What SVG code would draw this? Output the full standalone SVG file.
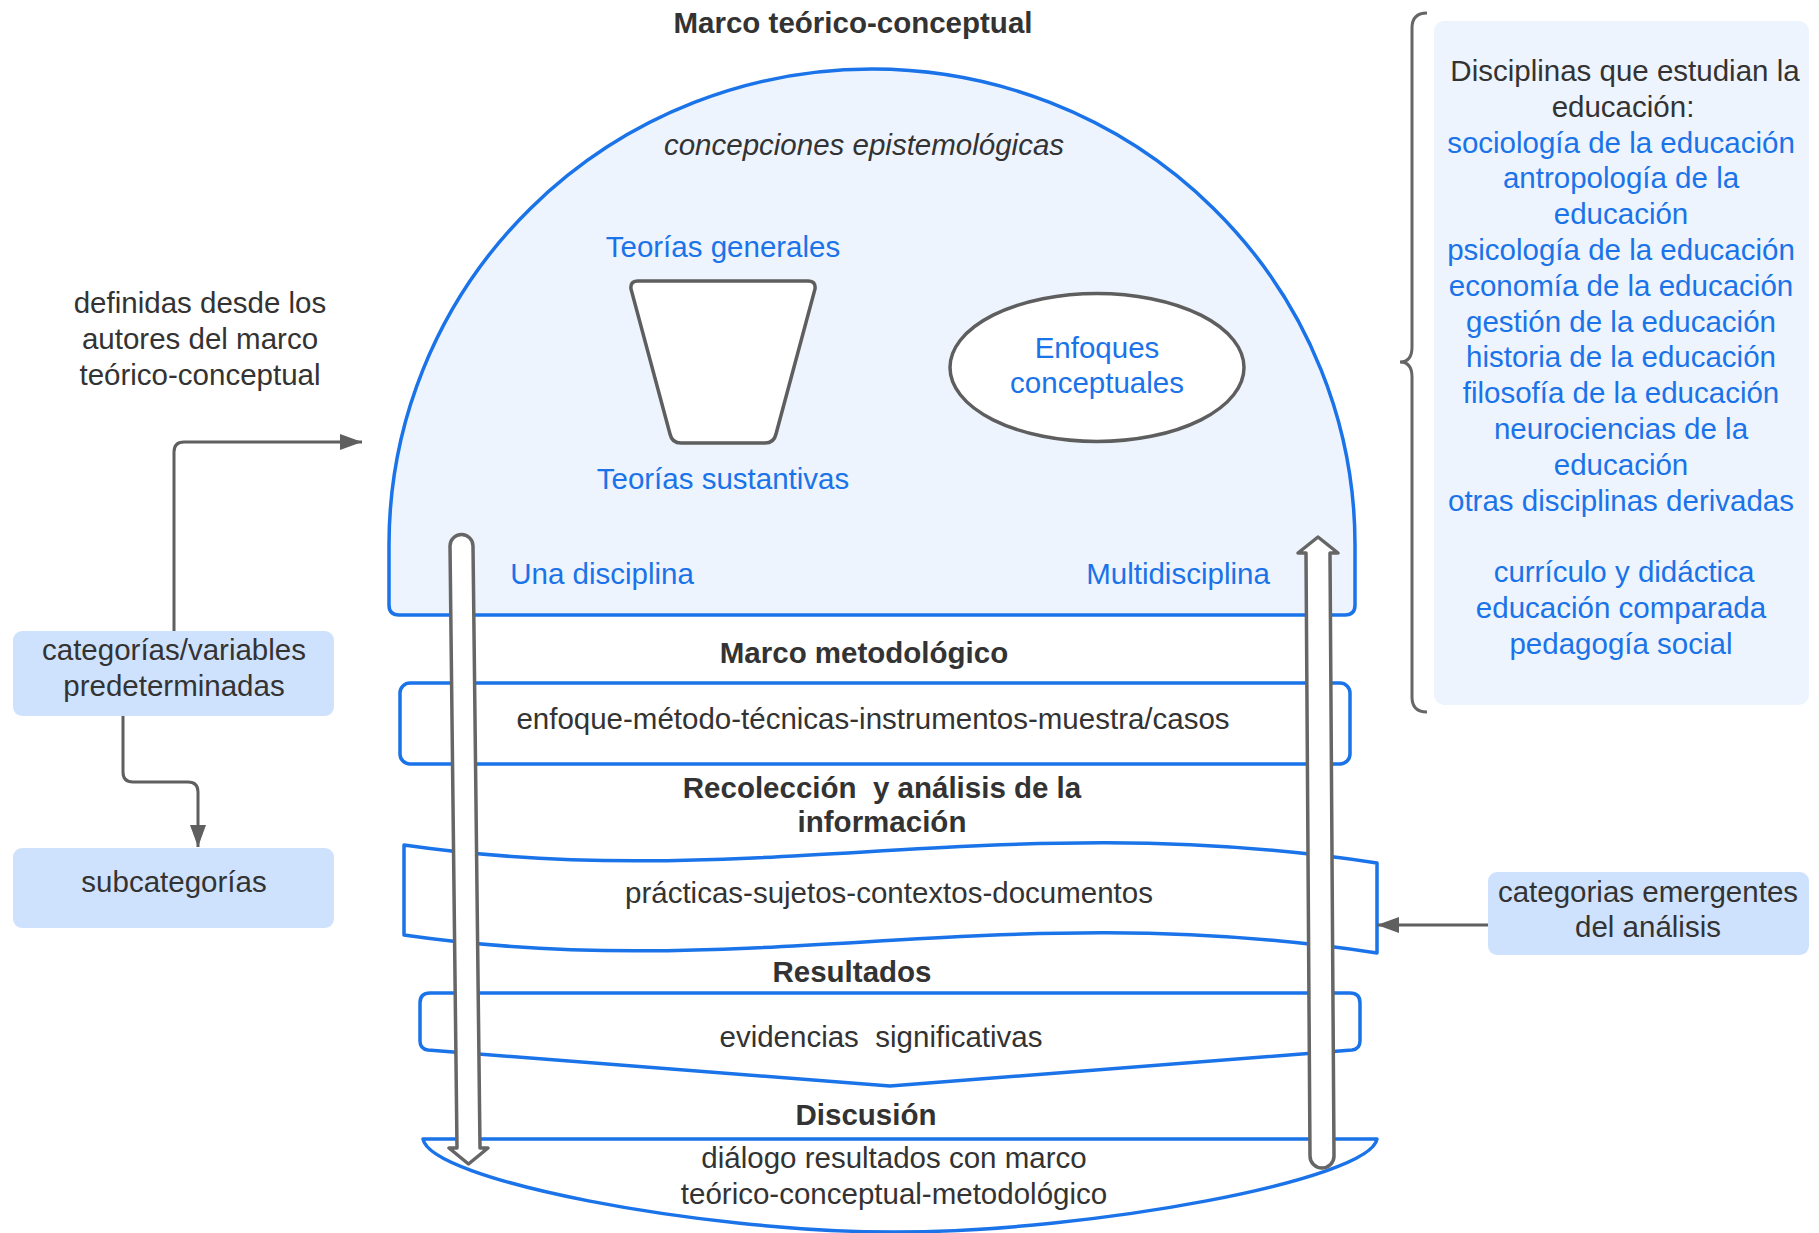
<svg xmlns="http://www.w3.org/2000/svg" width="1819" height="1233" viewBox="0 0 1819 1233">
<style>
text{font-family:"Liberation Sans",Arial,sans-serif;font-size:29.5px;fill:#333333;text-anchor:middle;white-space:pre}
.b{font-weight:bold}
.i{font-style:italic}
.blue{fill:#1a73e8}
.shape{fill:#ffffff;stroke:#1a73e8;stroke-width:3.5;stroke-linejoin:round}
.lbox{fill:#cfe2fd;stroke:none}
.garrow{fill:#ffffff;stroke:#666666;stroke-width:3.5;stroke-linejoin:round}
.conn{fill:none;stroke:#5f5f5f;stroke-width:3}
</style>
<defs>
<marker id="ah" markerUnits="userSpaceOnUse" markerWidth="24" markerHeight="18" refX="22" refY="8" orient="auto">
<path d="M0,0 L22,8 L0,16 Z" fill="#5f5f5f"/>
</marker>
</defs>
<rect width="1819" height="1233" fill="#ffffff"/>

<text class="b" x="853" y="33">Marco teórico-conceptual</text>

<g id="dome">
<path d="M389,605 L389,545 A483,476 0 0 1 1355,545 L1355,605 Q1355,615 1345,615 L399,615 Q389,615 389,605 Z" fill="#edf4fe" stroke="#1a73e8" stroke-width="3.5"/>
<text class="i" x="864" y="155">concepciones epistemológicas</text>
<text class="blue" x="602" y="584">Una disciplina</text>
<text class="blue" x="1178" y="584">Multidisciplina</text>
</g>

<g id="teorias">
<text class="blue" x="723" y="257">Teorías generales</text>
<path d="M638,281 L808,281 Q816,281 815,289 L776,434 Q774,443 765,443 L681,443 Q672,443 670,434 L631,289 Q630,281 638,281 Z" fill="#ffffff" stroke="#5e5e5e" stroke-width="3.5"/>
<text class="blue" x="723" y="489">Teorías sustantivas</text>
</g>

<g id="enfoques">
<ellipse cx="1097" cy="367.5" rx="147" ry="74" fill="#ffffff" stroke="#5e5e5e" stroke-width="3.5"/>
<text class="blue" x="1097" y="358">Enfoques</text>
<text class="blue" x="1097" y="393">conceptuales</text>
</g>

<g id="metodologico">
<text class="b" x="864" y="663">Marco metodológico</text>
<rect class="shape" x="400" y="683" width="950" height="81" rx="10"/>
<text x="873" y="729">enfoque-método-técnicas-instrumentos-muestra/casos</text>
</g>

<g id="recoleccion">
<text class="b" x="882" y="798">Recolección  y análisis de la</text>
<text class="b" x="882" y="832">información</text>
<path class="shape" d="M404,845 C750,895 1000,805 1377,863 L1377,953 C1000,895 750,985 404,935 Z"/>
<text x="889" y="903">prácticas-sujetos-contextos-documentos</text>
</g>

<g id="resultados">
<text class="b" x="852" y="982">Resultados</text>
<path class="shape" d="M430,993 L1350,993 Q1360,993 1360,1003 L1360,1041 Q1360,1049 1352,1050 L890,1086 L428,1050 Q420,1049 420,1041 L420,1003 Q420,993 430,993 Z"/>
<text x="881" y="1047">evidencias  significativas</text>
</g>

<g id="discusion">
<text class="b" x="866" y="1125">Discusión</text>
<path class="shape" d="M423,1139 L1377,1139 C1370,1180 1090,1232 895,1232 C700,1232 430,1180 423,1139 Z"/>
<text x="894" y="1168">diálogo resultados con marco</text>
<text x="894" y="1204">teórico-conceptual-metodológico</text>
</g>

<g id="flechas-verticales">
<path class="garrow" d="M450,546 A11.5,11.5 0 0 1 473,546 L480,1148 L488,1148 L468.5,1164 L449,1148 L457,1148 Z"/>
<path class="garrow" d="M1318,537 L1338,553 L1330,553 L1334,1156 A12,12 0 0 1 1310,1156 L1306,553 L1298,553 Z"/>
</g>

<g id="definidas">
<text x="200" y="313">definidas desde los</text>
<text x="200" y="349">autores del marco</text>
<text x="200" y="385">teórico-conceptual</text>
</g>

<g id="categorias-predeterminadas">
<rect class="lbox" x="13" y="631" width="321" height="85" rx="9"/>
<text x="174" y="660">categorías/variables</text>
<text x="174" y="696">predeterminadas</text>
</g>

<g id="subcategorias">
<rect class="lbox" x="13" y="848" width="321" height="80" rx="9"/>
<text x="174" y="892">subcategorías</text>
</g>

<g id="categorias-emergentes">
<rect class="lbox" x="1488" y="872" width="321" height="83" rx="9"/>
<text x="1648" y="902">categorias emergentes</text>
<text x="1648" y="937">del análisis</text>
</g>

<g id="disciplinas">
<path d="M1427,13 Q1412,13 1412,28 L1412,347 Q1412,362 1400,362 Q1412,362 1412,377 L1412,697 Q1412,712 1427,712" fill="none" stroke="#666666" stroke-width="3"/>
<rect x="1434" y="21" width="375" height="684" rx="10" fill="#edf4fe"/>
<text x="1625" y="81">Disciplinas que estudian la</text>
<text x="1623" y="117">educación:</text>
<text class="blue" x="1621" y="152.6">sociología de la educación</text>
<text class="blue" x="1621" y="188.4">antropología de la</text>
<text class="blue" x="1621" y="224.2">educación</text>
<text class="blue" x="1621" y="260">psicología de la educación</text>
<text class="blue" x="1621" y="295.8">economía de la educación</text>
<text class="blue" x="1621" y="331.6">gestión de la educación</text>
<text class="blue" x="1621" y="367.4">historia de la educación</text>
<text class="blue" x="1621" y="403.2">filosofía de la educación</text>
<text class="blue" x="1621" y="439">neurociencias de la</text>
<text class="blue" x="1621" y="474.8">educación</text>
<text class="blue" x="1621" y="510.6">otras disciplinas derivadas</text>
<text class="blue" x="1624" y="582.2">currículo y didáctica</text>
<text class="blue" x="1621" y="618">educación comparada</text>
<text class="blue" x="1621" y="653.8">pedagogía social</text>
</g>

<g id="conectores">
<path class="conn" d="M174,631 L174,452 Q174,442 184,442 L362,442" marker-end="url(#ah)"/>
<path class="conn" d="M123,716 L123,772 Q123,782 133,782 L188,782 Q198,782 198,792 L198,847" marker-end="url(#ah)"/>
<path class="conn" d="M1488,925 L1377,925" marker-end="url(#ah)"/>
</g>
</svg>
